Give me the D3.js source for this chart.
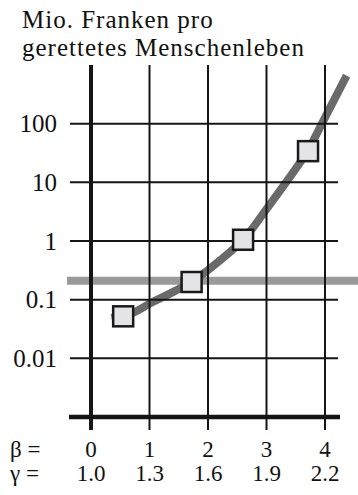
<!DOCTYPE html>
<html><head><meta charset="utf-8">
<script src="https://cdn.jsdelivr.net/npm/d3@7"></script>
<style>text{font-family:"Liberation Serif",serif;}</style>
</head>
<body style="margin:0">
<svg id="c" width="358" height="495"></svg>
<script>
// ---- data ----
const titleLines = ["Mio. Franken pro", "gerettetes Menschenleben"];
const betaTicks = [0, 1, 2, 3, 4];
const gammaLabels = ["1.0", "1.3", "1.6", "1.9", "2.2"];
const yTicks = [0.01, 0.1, 1, 10, 100];
const yTickLabels = ["0.01", "0.1", "1", "10", "100"];
const curveBeta = [0.35, 0.72, 1.0, 1.72, 2.0, 2.6, 3.0, 3.71, 3.91, 4.37];
const curveValue = [0.049, 0.060, 0.085, 0.20, 0.32, 1.05, 3.5, 35, 85, 660];
const pointBeta = [0.55, 1.72, 2.6, 3.71];
const pointValue = [0.052, 0.20, 1.05, 34];
const thresholdValue = 0.21;

// ---- layout ----
const svg = d3.select("#c");
const x = d3.scaleLinear().domain([0, 4]).range([91, 325]);
const y = d3.scaleLog().domain([0.001, 1000]).range([417, 65]);
const gridLeft = 70, gridRight = 338, axisLeft = 69, axisRight = 340, tickBottom = 430;

function txt(sel, size) {
  return sel.attr("font-family", "Liberation Serif")
    .style("font-family", "Liberation Serif")
    .attr("font-size", size).attr("fill", "#111");
}

// title
txt(svg.append("g").selectAll("text").data(titleLines).join("text"), 25)
  .attr("x", 22).attr("y", (d, i) => 28 + i * 28)
  .attr("letter-spacing", 1.0)
  .text(d => d);

// threshold band
svg.append("line")
  .attr("x1", 67).attr("x2", 358)
  .attr("y1", y(thresholdValue)).attr("y2", y(thresholdValue))
  .attr("stroke", "#9a9a9a").attr("stroke-width", 8);

// curve
const pts = curveBeta.map((b, i) => [x(b), y(curveValue[i])]);
svg.append("path")
  .attr("d", d3.line().curve(d3.curveCatmullRom.alpha(0.5))(pts))
  .attr("fill", "none").attr("stroke", "#6a6a6a").attr("stroke-width", 8);

// horizontal gridlines
svg.append("g").selectAll("line").data(yTicks).join("line")
  .attr("x1", gridLeft).attr("x2", gridRight)
  .attr("y1", d => y(d)).attr("y2", d => y(d))
  .attr("stroke", "#151515").attr("stroke-width", 2);

// vertical gridlines
svg.append("g").selectAll("line").data(betaTicks).join("line")
  .attr("x1", d => x(d)).attr("x2", d => x(d))
  .attr("y1", y(1000)).attr("y2", tickBottom)
  .attr("stroke", "#151515").attr("stroke-width", d => d === 0 ? 4 : 2);

// x axis line
svg.append("line")
  .attr("x1", axisLeft).attr("x2", axisRight)
  .attr("y1", y(0.001)).attr("y2", y(0.001))
  .attr("stroke", "#151515").attr("stroke-width", 4.5);

// points
svg.append("g").selectAll("rect").data(pointBeta).join("rect")
  .attr("x", d => x(d) - 10)
  .attr("y", (d, i) => y(pointValue[i]) - 10)
  .attr("width", 20).attr("height", 20)
  .attr("fill", "#e4e4e6").attr("stroke", "#1a1a1a").attr("stroke-width", 2.5);

// y labels
txt(svg.append("g").selectAll("text").data(yTicks).join("text"), 25)
  .attr("x", 57).attr("y", d => y(d)).attr("dy", "0.34em")
  .attr("text-anchor", "end")
  .text((d, i) => yTickLabels[i]);

// beta row
txt(svg.append("text"), 23).attr("x", 10).attr("y", 457).text("β =");
txt(svg.append("g").selectAll("text").data(betaTicks).join("text"), 23)
  .attr("x", d => x(d)).attr("y", 457).attr("text-anchor", "middle")
  .text(d => d);

// gamma row
txt(svg.append("text"), 23).attr("x", 10).attr("y", 481).text("γ =");
txt(svg.append("g").selectAll("text").data(betaTicks).join("text"), 23)
  .attr("x", d => x(d)).attr("y", 481).attr("text-anchor", "middle")
  .text((d, i) => gammaLabels[i]);
</script></body></html>
